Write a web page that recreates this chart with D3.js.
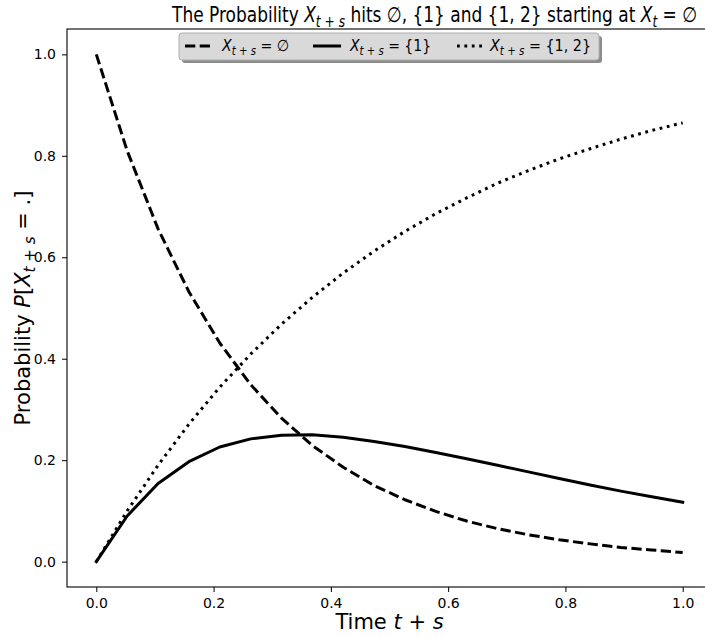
<!DOCTYPE html>
<html>
<head>
<meta charset="utf-8">
<script src="https://cdn.jsdelivr.net/npm/d3@7"></script>
<style>
  body { margin: 0; background: white; }
  svg { font-family: "DejaVu Sans", sans-serif; display: block; }
</style>
</head>
<body>
<div id="chart"></div>
<script>
// time grid (20 samples between 0 and 1)
const times = [0, 0.0526, 0.1053, 0.1579, 0.2105, 0.2632, 0.3158, 0.3684, 0.4211, 0.4737,
               0.5263, 0.5789, 0.6316, 0.6842, 0.7368, 0.7895, 0.8421, 0.8947, 0.9474, 1.0];

// values
const probEmpty = [1.000, 0.810, 0.656, 0.532, 0.431, 0.349, 0.283, 0.229, 0.186, 0.150,
                   0.122, 0.099, 0.080, 0.065, 0.053, 0.043, 0.035, 0.028, 0.023, 0.018];
const probOne   = [0.000, 0.090, 0.154, 0.197, 0.226, 0.242, 0.249, 0.250, 0.245, 0.237,
                   0.227, 0.215, 0.203, 0.190, 0.177, 0.164, 0.151, 0.139, 0.128, 0.117];
const probOneTwo = [0.000, 0.100, 0.190, 0.271, 0.344, 0.409, 0.468, 0.521, 0.569, 0.612,
                    0.651, 0.686, 0.717, 0.746, 0.771, 0.794, 0.814, 0.833, 0.850, 0.865];

const xTicks = [0, 0.2, 0.4, 0.6, 0.8, 1.0];
const yTicks = [0, 0.2, 0.4, 0.6, 0.8, 1.0];

const W = 705, H = 637;
const margin = { top: 29, right: -7, bottom: 50, left: 67 };
const width = W - margin.left - margin.right;
const height = H - margin.top - margin.bottom;

const svg = d3.select("#chart").append("svg")
    .attr("width", W)
    .attr("height", H);

const g = svg.append("g")
    .attr("transform", `translate(${margin.left},${margin.top})`);

const x = d3.scaleLinear().domain([-0.05, 1.05]).range([0, width]);
const y = d3.scaleLinear().domain([-0.05, 1.05]).range([height, 0]);

// axes
const xAxis = g.append("g")
    .attr("transform", `translate(0,${height})`)
    .call(d3.axisBottom(x).tickValues(xTicks).tickFormat(d3.format(".1f")).tickSize(5).tickPadding(6));
const yAxis = g.append("g")
    .call(d3.axisLeft(y).tickValues(yTicks).tickFormat(d3.format(".1f")).tickSize(5).tickPadding(6));

[xAxis, yAxis].forEach(a => {
    a.select(".domain").remove();
    a.selectAll(".tick line").attr("stroke", "#000").attr("stroke-width", 1);
    a.selectAll(".tick text")
        .attr("fill", "#000")
        .style("font-family", "DejaVu Sans")
        .style("font-size", "14px");
});

// frame (right side falls outside the picture)
g.append("rect")
    .attr("x", 0).attr("y", 0)
    .attr("width", width).attr("height", height)
    .attr("fill", "none")
    .attr("stroke", "#000")
    .attr("stroke-width", 1.1);

const series = [
    { key: "empty", values: probEmpty, dash: "10.3,4.4", cap: "butt" },
    { key: "one", values: probOne, dash: null, cap: "square" },
    { key: "onetwo", values: probOneTwo, dash: "2.8,4.6", cap: "butt" }
];

const line = d3.line()
    .x((d, i) => x(times[i]))
    .y(d => y(d));

g.selectAll(".curve")
    .data(series)
    .join("path")
    .attr("class", "curve")
    .attr("d", d => line(d.values))
    .attr("fill", "none")
    .attr("stroke", "#000")
    .attr("stroke-width", 3)
    .attr("stroke-linejoin", "round")
    .attr("stroke-linecap", d => d.cap)
    .attr("stroke-dasharray", d => d.dash);

// X with a subscript, then the rest of the label
function mathLabel(sel, sub, rest, shift) {
    sel.append("tspan").style("font-style", "italic").text("X");
    sel.append("tspan").attr("dy", shift).style("font-size", "0.72em").style("font-style", "italic").text(sub);
    sel.append("tspan").attr("dy", -shift).text(rest);
}

// squeeze a text horizontally so that it spans `len` pixels from (x0, y0)
function fitText(holder, x0, y0, len) {
    const w = holder.node().getBBox().width;
    holder.attr("transform", `translate(${x0},${y0}) scale(${len / w},1)`);
}

// legend
const legendX = 179, legendY = 33, legendW = 420, legendH = 27;
const legend = svg.append("g");
legend.append("rect")
    .attr("x", legendX + 3).attr("y", legendY + 3)
    .attr("width", legendW).attr("height", legendH)
    .attr("rx", 3)
    .attr("fill", "#8c8c8c");
legend.append("rect")
    .attr("x", legendX).attr("y", legendY)
    .attr("width", legendW).attr("height", legendH)
    .attr("rx", 3)
    .attr("fill", "#d9d9d9")
    .attr("stroke", "#b0b0b0");

const legendItems = [
    { s: series[0], x0: 185, tx: 222, len: 68, rest: " = ∅" },
    { s: series[1], x0: 313, tx: 350, len: 82, rest: " = {1}" },
    { s: series[2], x0: 457, tx: 490, len: 102, rest: " = {1, 2}" }
];
legendItems.forEach(it => {
    legend.append("line")
        .attr("x1", it.x0).attr("x2", it.x0 + 28)
        .attr("y1", legendY + 13).attr("y2", legendY + 13)
        .attr("stroke", "#000")
        .attr("stroke-width", 3)
        .attr("stroke-dasharray", it.s.dash)
        .attr("stroke-linecap", "butt");
    const t = legend.append("text")
        .style("font-size", "16px");
    mathLabel(t, "t + s", it.rest, 4);
    fitText(t, it.tx, legendY + 18, it.len);
});

// title
const title = svg.append("text")
    .style("font-size", "21px");
title.append("tspan").text("The Probability ");
mathLabel(title, "t + s", " hits ∅, {1} and {1, 2} starting at ", 5);
mathLabel(title, "t", " = ∅", 5);
fitText(title, 172, 22, 526);

// x label
const xl = svg.append("text")
    .attr("x", margin.left + x(0.5))
    .attr("y", 629)
    .attr("text-anchor", "middle")
    .style("font-size", "21px");
xl.append("tspan").text("Time ");
xl.append("tspan").style("font-style", "italic").text("t");
xl.append("tspan").text(" + ");
xl.append("tspan").style("font-style", "italic").text("s");

// y label
const yl = svg.append("text")
    .attr("transform", `translate(30,${margin.top + height / 2}) rotate(-90)`)
    .attr("text-anchor", "middle")
    .style("font-size", "21px");
yl.append("tspan").text("Probability ");
yl.append("tspan").style("font-style", "italic").text("P");
yl.append("tspan").text("[");
mathLabel(yl, "t + s", " = .]", 5);
</script>
</body>
</html>
